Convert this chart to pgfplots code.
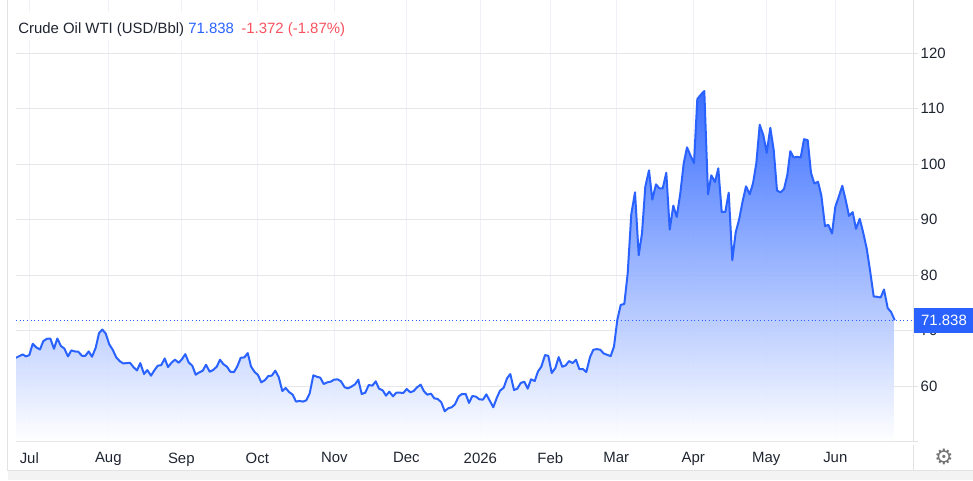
\documentclass[border=0pt]{standalone}
\usepackage{fontspec}
\setmainfont{Liberation Sans}
\usepackage{pgfplots}
\usepackage{pgfplotstable}
\pgfplotsset{compat=1.18}
\definecolor{wtiblue}{HTML}{2962FF}
\definecolor{wtired}{HTML}{F7525F}
\definecolor{gridh}{HTML}{E6E7EA}
\definecolor{gridv}{HTML}{EEF1F6}
\definecolor{edge}{HTML}{E3E3E3}
\definecolor{strip}{HTML}{F3F3F3}
\definecolor{txt}{HTML}{1F2530}
\newcommand{\pxfont}{\fontsize{11.2}{13}\selectfont}
% x is the pixel column of the reference, y the price in USD/Bbl
\pgfplotstableread{
x y
16.0 65.09
19.3 65.39
22.7 65.69
26.0 65.33
29.3 65.57
32.7 67.60
36.3 66.95
40.0 66.59
43.3 68.08
46.7 68.50
50.3 68.56
54.0 66.71
57.3 68.56
61.0 67.19
64.3 66.77
68.0 65.33
71.3 66.41
75.0 66.23
78.3 66.17
82.0 65.45
85.3 65.45
88.7 66.23
92.0 65.27
95.7 66.89
99.0 69.52
102.3 70.18
105.7 69.46
109.3 67.49
112.7 66.53
116.3 65.15
120.0 64.43
123.3 64.07
126.7 64.13
130.0 64.19
133.7 63.35
137.0 62.81
140.3 64.13
144.0 62.16
147.3 62.87
151.0 61.86
154.3 62.81
157.7 63.65
161.3 63.77
164.7 64.97
168.0 63.41
171.7 64.25
175.0 64.73
178.7 64.19
182.0 64.85
185.3 65.75
188.7 64.25
192.3 63.65
195.7 62.04
199.3 62.46
202.7 62.75
206.0 63.83
209.7 62.57
213.0 62.87
216.7 63.47
220.0 64.73
223.3 63.95
227.0 63.47
230.3 62.57
234.0 62.51
237.3 63.53
240.7 65.09
244.3 65.15
247.7 65.93
251.0 63.53
254.7 62.51
258.0 61.98
261.3 60.66
265.0 61.08
268.3 61.80
271.7 61.86
275.3 62.75
278.7 61.62
282.3 59.10
285.7 59.64
289.0 58.92
292.7 58.44
296.0 57.19
299.3 57.31
303.0 57.19
306.3 57.43
309.7 58.68
313.3 61.92
316.7 61.68
320.3 61.50
323.7 60.36
327.3 60.66
330.7 60.78
334.0 61.14
337.7 61.20
341.0 60.84
344.7 59.76
348.0 59.58
351.3 59.88
355.0 60.30
358.3 61.14
361.7 58.56
365.3 58.80
368.7 60.18
372.3 60.06
375.7 60.84
379.0 59.52
382.7 59.22
386.0 58.26
389.3 58.98
393.0 58.14
396.3 58.80
400.0 58.80
403.3 58.74
406.7 59.46
410.3 58.86
413.7 59.10
417.0 59.76
420.7 60.24
424.0 59.04
427.3 58.44
431.0 58.62
434.3 57.78
437.7 57.66
441.3 57.07
444.7 55.45
448.3 55.99
451.7 56.17
455.0 56.71
458.7 58.14
462.0 58.56
465.7 58.56
469.0 56.95
472.3 58.20
476.0 58.08
479.3 57.60
483.0 57.54
486.3 58.50
489.7 57.37
493.3 56.17
496.7 57.84
500.0 59.16
503.7 59.70
507.0 61.38
510.3 62.16
514.0 59.28
517.3 59.52
520.7 60.54
524.3 60.78
527.7 59.52
531.0 61.20
534.7 60.90
538.0 62.63
541.3 63.47
545.0 65.57
548.3 65.45
551.7 62.34
555.3 63.23
558.7 65.21
562.3 63.47
565.7 63.71
569.0 64.49
572.7 64.13
576.0 64.73
579.3 63.05
583.0 63.05
586.3 62.51
590.0 65.21
593.3 66.53
596.7 66.65
600.3 66.53
603.7 65.87
607.0 65.63
610.7 65.39
614.0 67.13
617.3 71.92
620.7 74.61
624.3 74.79
627.7 80.32
631.3 91.00
635.0 94.90
638.7 83.56
642.0 87.52
645.3 95.92
649.0 98.86
652.3 93.58
656.0 96.34
659.3 95.62
662.7 95.62
666.3 98.44
669.7 88.18
673.3 92.50
676.7 90.46
680.3 94.72
683.7 100.12
687.0 103.00
690.7 101.44
694.0 100.18
697.3 111.70
701.0 112.54
704.3 113.14
708.0 94.54
711.3 97.96
715.0 96.76
718.3 99.22
721.7 91.36
725.3 91.36
728.7 94.84
732.3 82.66
735.7 87.70
739.0 89.92
742.7 93.34
746.0 95.98
749.7 94.54
753.0 96.52
756.3 100.12
759.7 107.07
763.3 105.21
766.7 102.03
770.3 106.53
773.7 102.52
777.0 95.20
780.7 94.90
784.0 95.50
787.3 98.01
790.3 102.31
793.7 101.17
797.3 101.29
800.7 101.17
804.0 104.47
807.7 104.29
811.0 98.41
814.3 96.49
818.0 96.79
821.3 94.38
825.0 88.80
828.3 89.04
832.0 87.48
835.3 92.28
838.7 94.08
842.3 96.07
845.7 93.48
849.0 90.66
852.7 91.32
856.0 88.32
859.7 90.12
863.0 87.78
866.7 84.77
870.0 80.87
873.7 76.13
877.0 76.07
880.7 75.95
884.0 77.39
887.7 74.02
891.0 73.36
894.7 71.838
}\wtidata
\begin{document}
\begin{tikzpicture}
\path[use as bounding box] (0,0) rectangle (729.75pt,360pt);
% page furniture behind the axis
\fill[strip] (6pt,0pt) rectangle (729.75pt,7.5pt);
\draw[edge,line width=0.75pt] (5.6pt,7.5pt) -- (5.6pt,360pt);
\draw[edge,line width=0.75pt] (5.6pt,7.5pt) -- (729.75pt,7.5pt);
\draw[edge,line width=0.75pt] (684.9pt,7.5pt) -- (684.9pt,26pt);
\draw[edge,line width=0.75pt] (684.9pt,29.25pt) -- (688.5pt,29.25pt);
\begin{axis}[
  at={(12pt,29.25pt)},
  anchor=south west,
  scale only axis,
  width=672.75pt,
  height=330.75pt,
  xmin=16, xmax=913,
  ymin=50.09, ymax=129.55,
  axis x line=bottom,
  axis y line=right,
  axis line style={-,draw=edge,line width=0.75pt},
  xtick={29.3,108.3,181.3,257.3,334.3,406.3,480.3,550.3,616.3,693.3,766.3,835.3},
  xticklabels={Jul,Aug,Sep,Oct,Nov,Dec,2026,Feb,Mar,Apr,May,Jun},
  ytick={60,70,80,90,100,110,120},
  xmajorgrids=true,
  ymajorgrids=true,
  x grid style={gridv,line width=0.75pt},
  y grid style={gridh,line width=0.75pt},
  x tick style={draw=none},
  y tick style={draw=edge,line width=0.75pt},
  tick align=outside,
  major tick length=3.75pt,
  tick label style={font=\pxfont,text=txt},
  xticklabel style={yshift=-1.5pt},
  yticklabel style={xshift=-1.5pt},
  /pgf/number format/assume math mode=true,
  clip=true,
]
\addplot[draw=none,top color=wtiblue,bottom color=white,fill opacity=0.92] table[x=x,y=y] {\wtidata} \closedcycle;
\addplot[wtiblue,line width=0.75pt,dotted] coordinates {(16,71.838) (913,71.838)};
\addplot[wtiblue,line width=1.5pt,line join=round] table[x=x,y=y] {\wtidata};
\end{axis}
\begin{scope}[x=0.75pt,y=0.75pt]
\fill[white] (16,440) rectangle (350,468);
\node[anchor=base west,inner sep=0pt] at (18,447) {\pxfont\textcolor{txt}{Crude Oil WTI (USD/Bbl)} \textcolor{wtiblue}{71.838}\hspace{5.5pt}\textcolor{wtired}{-1.372 (-1.87\%)}};
\fill[wtiblue] (914,147) rectangle (973,172);
\node[anchor=center,inner sep=0pt,text=white] at (944,159.5) {\fontsize{11.2}{13}\selectfont 71.838};
\node[anchor=center,inner sep=0pt,text=black!55] at (944,23) {\fontspec{DejaVu Sans}\fontsize{16}{16}\selectfont ⚙};
\end{scope}
\end{tikzpicture}
\end{document}
